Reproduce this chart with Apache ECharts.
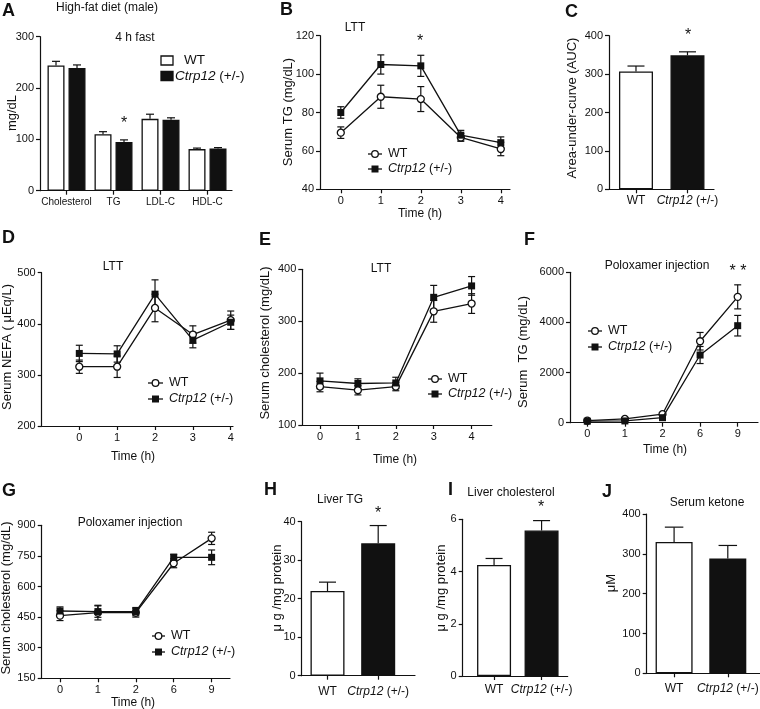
<!DOCTYPE html>
<html><head><meta charset="utf-8">
<script src="https://cdn.jsdelivr.net/npm/echarts@6/dist/echarts.min.js"></script>
<style>html,body{margin:0;padding:0;background:#fff}#c{width:760px;height:709px}</style>
</head><body><div id="c"></div>
<script>
// ---------------- data ----------------
const catA = ['Cholesterol', 'TG', 'LDL-C', 'HDL-C'];
const aWT = [244, 110, 140, 81];
const aWTerr = [8, 5, 9, 2];
const aKO = [239, 95, 138, 82];
const aKOerr = [6, 4, 4, 2];

const timeLTT = ['0', '1', '2', '3', '4'];
const timePolox = ['0', '1', '2', '6', '9'];
const groups = ['WT', 'Ctrp12 (+/-)'];

const bWT = [69.5, 88.2, 87, 67, 61];
const bWTerr = [3, 6, 6.5, 2, 3.5];
const bKO = [80, 105, 104.3, 68.2, 64.3];
const bKOerr = [3, 5, 5.5, 2.5, 3];

const cAUC = [307, 349];
const cAUCerr = [14, 9];

const dWT = [316, 316, 431, 379, 407];
const dWTerr = [13, 21, 27, 17, 18];
const dKO = [342, 341, 458, 368, 403];
const dKOerr = [16, 16, 28, 15, 14];

const eWT = [174, 167, 174, 319, 334];
const eWTerr = [10, 9, 8, 21, 19];
const eKO = [185, 180, 181, 346, 368];
const eKOerr = [15, 9, 11, 23, 18];

const fWT = [80, 150, 340, 3250, 5020];
const fWTerr = [30, 40, 60, 350, 480];
const fKO = [60, 70, 200, 2700, 3870];
const fKOerr = [30, 30, 50, 340, 410];

const gWT = [457, 472, 472, 714, 836];
const gWTerr = [24, 36, 22, 22, 30];
const gKO = [480, 477, 477, 743, 743];
const gKOerr = [20, 28, 20, 15, 36];

const hTG = [22, 34.4];
const hTGerr = [2.3, 4.6];
const iChol = [4.25, 5.57];
const iCholErr = [0.25, 0.38];
const jKet = [330, 288];
const jKetErr = [37, 33];

// ---------------- helpers ----------------
const FONT = '"Liberation Sans", Arial, Helvetica, sans-serif';
const INK = '#111';
const WTSTYLE = {color: '#fff', borderColor: INK, borderWidth: 1.3};
const KOSTYLE = {color: INK, borderColor: INK, borderWidth: 1.3};
const option = {animation: false, backgroundColor: '#fff', textStyle: {fontFamily: FONT},
  grid: [], xAxis: [], yAxis: [], series: [], graphic: []};

function italicize(s) { return (s && s.indexOf('Ctrp12') === 0) ? '{i|Ctrp12}' + s.slice(6) : s; }

function panel(g) {
  const k = option.grid.length;
  option.grid.push({left: g.left, top: g.top, width: g.width, height: g.height,
    containLabel: false, outerBoundsMode: 'none'});
  const ticks = g.ticks || g.labels.map((_, i) => i);
  const fs = g.xFont || 11;
  option.xAxis.push({type: 'value', gridIndex: k, min: g.xMin, max: g.xMax,
    axisLine: {show: true, onZero: false, lineStyle: {color: INK, width: 1.2}},
    axisTick: {show: true, customValues: ticks, length: 4, lineStyle: {color: INK, width: 1.2}},
    axisLabel: {customValues: g.labels.map((_, i) => i), formatter: v => italicize(g.labels[Math.round(v)] || ''),
      fontSize: fs, margin: g.xMargin || 6, color: INK, fontFamily: FONT,
      rich: {i: {fontStyle: 'italic', fontSize: fs, fontFamily: FONT, color: INK}}},
    splitLine: {show: false}});
  option.yAxis.push({type: 'value', gridIndex: k, min: g.yMin, max: g.yMax, interval: g.yInt,
    axisLine: {show: true, onZero: false, lineStyle: {color: INK, width: 1.2}},
    axisTick: {show: true, length: 4, lineStyle: {color: INK, width: 1.2}},
    axisLabel: {fontSize: 11, margin: 6, color: INK, fontFamily: FONT, formatter: v => String(v)},
    splitLine: {show: false}});
  return k;
}

function errBars(k, vals, errs, cfg) {
  option.series.push({type: 'custom', xAxisIndex: k, yAxisIndex: k, z: cfg.z || 1, silent: true,
    data: vals.map((v, i) => [i, v, errs[i]]),
    renderItem: (params, api) => {
      const x = api.value(0), v = api.value(1), e = api.value(2);
      const top = api.coord([x, v + e]);
      const base = api.coord([x, cfg.upOnly ? v : v - e]);
      const cx = top[0] + (cfg.offset || 0), hw = cfg.cap / 2;
      const st = {stroke: INK, lineWidth: 1.2};
      const ch = [
        {type: 'line', shape: {x1: cx, y1: base[1], x2: cx, y2: top[1]}, style: st},
        {type: 'line', shape: {x1: cx - hw, y1: top[1], x2: cx + hw, y2: top[1]}, style: st}];
      if (!cfg.upOnly) ch.push({type: 'line', shape: {x1: cx - hw, y1: base[1], x2: cx + hw, y2: base[1]}, style: st});
      return {type: 'group', children: ch};
    }});
}

function linePanel(k, wt, wtE, ko, koE) {
  errBars(k, wt, wtE, {cap: 7, z: 1});
  errBars(k, ko, koE, {cap: 7, z: 1});
  option.series.push({type: 'line', xAxisIndex: k, yAxisIndex: k, data: wt.map((v, i) => [i, v]),
    symbol: 'circle', symbolSize: 7, itemStyle: {color: '#fff', borderColor: INK, borderWidth: 1.3},
    lineStyle: {color: INK, width: 1.3}, z: 3});
  option.series.push({type: 'line', xAxisIndex: k, yAxisIndex: k, data: ko.map((v, i) => [i, v]),
    symbol: 'rect', symbolSize: 7, itemStyle: {color: INK, borderColor: INK, borderWidth: 0},
    lineStyle: {color: INK, width: 1.3}, z: 4});
}

function barPair(k, vals, errs, w) {
  option.series.push({type: 'bar', xAxisIndex: k, yAxisIndex: k, barWidth: w, z: 2,
    data: vals.map((v, i) => ({value: [i, v], itemStyle: i === 0 ? WTSTYLE : KOSTYLE}))});
  errBars(k, vals, errs, {cap: w / 2, upOnly: true, z: 3});
}

function txt(x, y, s, o) {
  o = o || {};
  const fs = o.size || 12;
  option.graphic.push({type: 'text', x: x, y: y, rotation: o.rot || 0, silent: true, z: 10,
    style: {text: s, fontSize: fs, fontFamily: FONT, fontWeight: o.bold ? 'bold' : 'normal', fill: INK,
      align: o.align || 'center', verticalAlign: 'middle',
      rich: {i: {fontStyle: 'italic', fontSize: fs, fontFamily: FONT, fill: INK, color: INK}}}});
}
function yName(x, y, s) { txt(x, y, s, {rot: Math.PI / 2, size: 13}); }
function letter(x, y, s) { txt(x, y, s, {bold: true, size: 18, align: 'left'}); }

function lineLegend(x1, x2, y, sep) {
  const G = option.graphic, cx = (x1 + x2) / 2;
  const st = {stroke: INK, lineWidth: 1.3};
  G.push({type: 'line', silent: true, z: 10, shape: {x1: x1, y1: y, x2: x2, y2: y}, style: st});
  G.push({type: 'circle', silent: true, z: 11, shape: {cx: cx, cy: y, r: 3.3}, style: {fill: '#fff', stroke: INK, lineWidth: 1.3}});
  G.push({type: 'line', silent: true, z: 10, shape: {x1: x1, y1: y + sep, x2: x2, y2: y + sep}, style: st});
  G.push({type: 'rect', silent: true, z: 11, shape: {x: cx - 3.5, y: y + sep - 3.5, width: 7, height: 7}, style: {fill: INK}});
  txt(x2 + 6, y, 'WT', {align: 'left', size: 12.5});
  txt(x2 + 6, y + sep, '{i|Ctrp12} (+/-)', {align: 'left', size: 12.5});
}

// ---------------- A ----------------
const kA = panel({left: 40, top: 36.7, width: 192, height: 154, xMin: -0.564, xMax: 3.521,
  labels: catA, yMin: 0, yMax: 300, yInt: 100, xFont: 10, xMargin: 7});
option.series.push({type: 'bar', xAxisIndex: kA, yAxisIndex: kA, name: 'WT', barWidth: 17, barGap: '23.5%', z: 2,
  data: aWT.map((v, i) => [i, v]), itemStyle: WTSTYLE});
option.series.push({type: 'bar', xAxisIndex: kA, yAxisIndex: kA, name: 'KO', barWidth: 17, barGap: '23.5%', z: 2,
  data: aKO.map((v, i) => [i, v]), itemStyle: KOSTYLE});
errBars(kA, aWT, aWTerr, {cap: 8, upOnly: true, offset: -10.5, z: 3});
errBars(kA, aKO, aKOerr, {cap: 8, upOnly: true, offset: 10.5, z: 3});

// ---------------- B ----------------
const kB = panel({left: 320, top: 35.7, width: 190, height: 153.6, xMin: -0.52, xMax: 4.23,
  labels: timeLTT, yMin: 40, yMax: 120, yInt: 20});
linePanel(kB, bWT, bWTerr, bKO, bKOerr);

// ---------------- C ----------------
const kC = panel({left: 609, top: 35.7, width: 105, height: 153.6, xMin: -0.524, xMax: 1.515,
  labels: groups, yMin: 0, yMax: 400, yInt: 100, xFont: 12, xMargin: 5});
barPair(kC, cAUC, cAUCerr, 34);

// ---------------- D ----------------
const kD = panel({left: 41.7, top: 272.7, width: 191.3, height: 153.3, xMin: -0.993, xMax: 4.06,
  labels: timeLTT, yMin: 200, yMax: 500, yInt: 100});
linePanel(kD, dWT, dWTerr, dKO, dKOerr);

// ---------------- E ----------------
const kE = panel({left: 302.3, top: 269.3, width: 189.5, height: 155.7, xMin: -0.467, xMax: 4.533,
  labels: timeLTT, yMin: 100, yMax: 400, yInt: 100});
linePanel(kE, eWT, eWTerr, eKO, eKOerr);

// ---------------- F ----------------
const kF = panel({left: 570, top: 272.3, width: 188, height: 150.4, xMin: -0.46, xMax: 4.54,
  labels: timePolox, yMin: 0, yMax: 6000, yInt: 2000});
linePanel(kF, fWT, fWTerr, fKO, fKOerr);

// ---------------- G ----------------
const kG = panel({left: 41.7, top: 525.3, width: 188.3, height: 153, xMin: -0.483, xMax: 4.485,
  labels: timePolox, yMin: 150, yMax: 900, yInt: 150});
linePanel(kG, gWT, gWTerr, gKO, gKOerr);

// ---------------- H ----------------
const kH = panel({left: 301.7, top: 521.7, width: 113.3, height: 154, xMin: -0.509, xMax: 1.726,
  labels: groups, yMin: 0, yMax: 40, yInt: 10, xFont: 12, xMargin: 10});
barPair(kH, hTG, hTGerr, 34);

// ---------------- I ----------------
const kI = panel({left: 462.7, top: 519.3, width: 105, height: 156.7, xMin: -0.66, xMax: 1.55,
  labels: groups, yMin: 0, yMax: 6, yInt: 2, xFont: 12, xMargin: 8});
barPair(kI, iChol, iCholErr, 34);

// ---------------- J ----------------
const kJ = panel({left: 646.7, top: 514, width: 113, height: 159.3, xMin: -0.51, xMax: 1.594,
  labels: groups, yMin: 0, yMax: 400, yInt: 100, xFont: 12, xMargin: 9});
barPair(kJ, jKet, jKetErr, 37);

// ---------------- texts ----------------
letter(2, 11, 'A'); letter(280, 10, 'B'); letter(565, 12, 'C');
letter(2, 238, 'D'); letter(259, 240, 'E'); letter(524, 240, 'F');
letter(2, 491, 'G'); letter(264, 490, 'H'); letter(448, 490, 'I'); letter(602, 492, 'J');

txt(107, 8, 'High-fat diet (male)');
txt(135, 38, '4 h fast');
txt(355, 28, 'LTT');
txt(113, 267, 'LTT');
txt(381, 269, 'LTT');
txt(657, 266, 'Poloxamer injection');
txt(130, 523, 'Poloxamer injection');
txt(340, 500, 'Liver TG');
txt(511, 493, 'Liver cholesterol');
txt(707, 503, 'Serum ketone');

// significance marks
txt(124, 124, '*', {size: 16});
txt(420, 42, '*', {size: 16});
txt(688, 36, '*', {size: 16});
txt(738, 272, '* *', {size: 16});
txt(378, 514, '*', {size: 16});
txt(541, 508, '*', {size: 16});

// axis names
yName(12, 113, 'mg/dL');
yName(288, 112, 'Serum TG (mg/dL)');
yName(572, 108, 'Area-under-curve (AUC)');
yName(7, 347, 'Serum NEFA ( \u03bcEq/L)');
yName(265, 343, 'Serum cholesterol (mg/dL)');
yName(523, 352, 'Serum  TG (mg/dL)');
yName(6, 598, 'Serum cholesterol (mg/dL)');
yName(277, 588, '\u03bc g /mg protein');
yName(441, 588, '\u03bc g /mg protein');
yName(611, 583, '\u03bcM');
txt(420, 214, 'Time (h)');
txt(133, 457, 'Time (h)');
txt(395, 460, 'Time (h)');
txt(665, 450, 'Time (h)');
txt(133, 703, 'Time (h)');

// legends
option.graphic.push({type: 'rect', silent: true, z: 10, shape: {x: 161, y: 56, width: 12, height: 9}, style: {fill: '#fff', stroke: INK, lineWidth: 1.3}});
option.graphic.push({type: 'rect', silent: true, z: 10, shape: {x: 161, y: 71.5, width: 12, height: 9}, style: {fill: INK, stroke: INK, lineWidth: 1.3}});
txt(184, 60.5, 'WT', {align: 'left', size: 13.5});
txt(175, 76, '{i|Ctrp12} (+/-)', {align: 'left', size: 13.5});
lineLegend(368, 382, 154, 15);
lineLegend(148, 163, 383, 16);
lineLegend(428, 442, 379, 15);
lineLegend(588, 602, 331, 16);
lineLegend(152, 165, 636, 16);

const chart = echarts.init(document.getElementById('c'), null, {renderer: 'canvas'});
chart.setOption(option);
</script>
</body></html>
